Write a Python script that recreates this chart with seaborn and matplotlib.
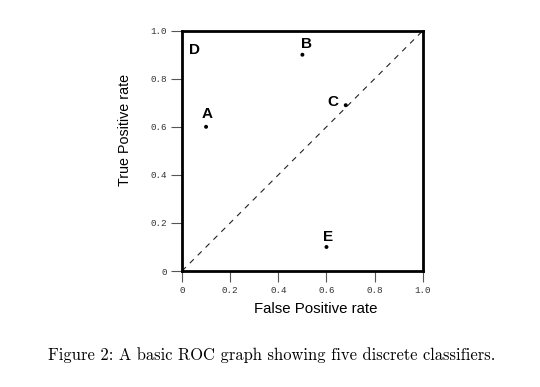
#!/usr/bin/env python3
"""Basic ROC graph with five discrete classifiers (A-E)."""

import matplotlib
matplotlib.use("Agg")
import matplotlib.pyplot as plt
import pandas as pd
import seaborn as sns

# === Data ===
names = ["A", "B", "C", "D", "E"]
fp_rate = [0.10, 0.50, 0.68, 0.0, 0.60]
tp_rate = [0.60, 0.90, 0.69, 1.0, 0.10]
# label offsets (points) relative to each classifier
label_dx = [1, 3, -9, 9, 1]
label_dy = [9, 8, 2, -14, 7]

diag_x = [0.0, 1.0]
diag_y = [0.0, 1.0]

tick_vals = [0, 0.2, 0.4, 0.6, 0.8, 1.0]
tick_labels = ["0", "0.2", "0.4", "0.6", "0.8", "1.0"]

caption = "Figure 2: A basic ROC graph showing five discrete classifiers."

df = pd.DataFrame({"name": names, "fpr": fp_rate, "tpr": tp_rate})
diag = pd.DataFrame({"x": diag_x, "y": diag_y})

# === Style ===
sns.set_theme(style="white")
plt.rcParams["font.family"] = ["Liberation Sans", "DejaVu Sans"]

fig = plt.figure(figsize=(5.4, 3.87), dpi=100)
ax = fig.add_axes([0.337, 0.2997, 0.446, 0.621])

sns.lineplot(data=diag, x="x", y="y", ax=ax, color="#222222",
             linewidth=0.8, linestyle=(0, (5, 5)))
sns.scatterplot(data=df, x="fpr", y="tpr", ax=ax, color="black",
                s=8, edgecolor="none", zorder=3)

for (_, row), dx, dy in zip(df.iterrows(), label_dx, label_dy):
    ax.annotate(row["name"], (row["fpr"], row["tpr"]),
                xytext=(dx, dy), textcoords="offset points",
                ha="center", va="center", fontsize=11,
                fontweight="bold", color="black")

ax.set_xlim(0, 1)
ax.set_ylim(0, 1)
ax.set_xticks(tick_vals)
ax.set_xticklabels(tick_labels, family="Liberation Mono", fontsize=6.7,
                   color="#333333")
ax.set_yticks(tick_vals)
ax.set_yticklabels(tick_labels, family="Liberation Mono", fontsize=6.7,
                   color="#333333")
ax.tick_params(axis="both", direction="out", length=8, width=0.8,
               color="#555555", pad=3)
ax.tick_params(axis="x", bottom=True)
ax.tick_params(axis="y", left=True)
ax.set_xlabel("")
ax.set_ylabel("")
for spine in ax.spines.values():
    spine.set_color("black")
    spine.set_linewidth(2)

fig.text(316 / 540, 1 - 309 / 387, "False Positive rate", ha="center",
         va="center", fontsize=10.8, color="black")
fig.text(125 / 540, 1 - 130 / 387, "True Positive rate", ha="center",
         va="center", fontsize=10.3, rotation=90, color="black")
fig.text(272 / 540, 1 - 355 / 387, caption, ha="center", va="center",
         fontsize=11.9, family="cmr10", color="black")

fig.savefig("out.png", dpi=100)
plt.close(fig)
